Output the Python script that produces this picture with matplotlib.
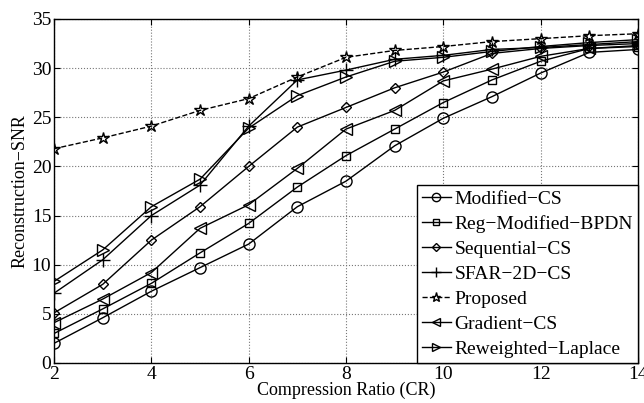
import matplotlib
matplotlib.use("Agg")
import matplotlib.pyplot as plt

plt.rcParams['font.family'] = ['Liberation Serif', 'DejaVu Serif']
plt.rcParams['mathtext.fontset'] = 'stix'

cr = [2, 3, 4, 5, 6, 7, 8, 9, 10, 11, 12, 13, 14]
modified_cs = [2.0, 4.6, 7.3, 9.7, 12.1, 15.9, 18.5, 22.1, 24.9, 27.1, 29.5, 31.6, 31.9]
reg_modified_bpdn = [3.0, 5.5, 8.1, 11.2, 14.2, 17.9, 21.1, 23.8, 26.5, 28.8, 30.7, 32.0, 32.2]
sequential_cs = [5.1, 8.0, 12.5, 15.9, 20.0, 24.0, 26.0, 28.0, 29.6, 31.5, 32.0, 32.3, 32.5]
sfar_2d_cs = [7.1, 10.5, 15.0, 18.1, 24.1, 28.8, 29.8, 30.9, 31.3, 31.9, 32.1, 32.4, 32.7]
proposed = [21.8, 22.9, 24.1, 25.7, 26.9, 29.1, 31.1, 31.8, 32.2, 32.7, 33.0, 33.3, 33.5]
gradient_cs = [4.1, 6.5, 9.2, 13.7, 16.1, 19.8, 23.8, 25.7, 28.7, 29.9, 31.2, 32.0, 32.3]
reweighted_laplace = [8.3, 11.5, 15.9, 18.7, 23.9, 27.2, 29.1, 30.7, 31.1, 31.7, 32.2, 32.6, 32.9]

labels = ['Modified\u2212CS', 'Reg\u2212Modified\u2212BPDN', 'Sequential\u2212CS',
          'SFAR\u22122D\u2212CS', 'Proposed', 'Gradient\u2212CS', 'Reweighted\u2212Laplace']
series = [modified_cs, reg_modified_bpdn, sequential_cs, sfar_2d_cs, proposed,
          gradient_cs, reweighted_laplace]
markers = ['o', 's', 'D', '+', '*', '<', '>']
sizes = [8, 6, 5.5, 10, 9, 8, 8]
styles = ['-', '-', '-', '-', '--', '-', '-']

fig = plt.figure(figsize=(6.44, 4.03), dpi=100)
ax = fig.add_axes([0.0839, 0.0993, 0.9068, 0.8536])

for y, lab, m, ms, ls in zip(series, labels, markers, sizes, styles):
    ax.plot(cr, y, linestyle=ls, color='black', linewidth=1.0, marker=m,
            markersize=ms, markerfacecolor='none',
            markeredgecolor='black', markeredgewidth=1.0, label=lab)

ax.set_xlim(2, 14)
ax.set_ylim(0, 35)
ax.set_xticks([2, 4, 6, 8, 10, 12, 14])
ax.set_yticks([0, 5, 10, 15, 20, 25, 30, 35])
ax.grid(True, linestyle=':', color='#777777', linewidth=0.8)
ax.tick_params(direction='in', top=True, right=True, labelsize=14, length=4, pad=2)
for s in ax.spines.values():
    s.set_linewidth(1.0)
ax.set_xlabel('Compression Ratio (CR)', fontsize=13, labelpad=-1)
ax.set_ylabel('Reconstruction\u2212SNR', fontsize=13, labelpad=2)

leg = ax.legend(loc='lower right', fontsize=14, frameon=True, fancybox=False,
                edgecolor='black', framealpha=1, borderpad=0.25, labelspacing=0.38,
                handlelength=1.5, handletextpad=0.2, borderaxespad=0.0,
                markerscale=0.75)
leg.get_frame().set_linewidth(1.0)

fig.savefig('out.png', dpi=100)
